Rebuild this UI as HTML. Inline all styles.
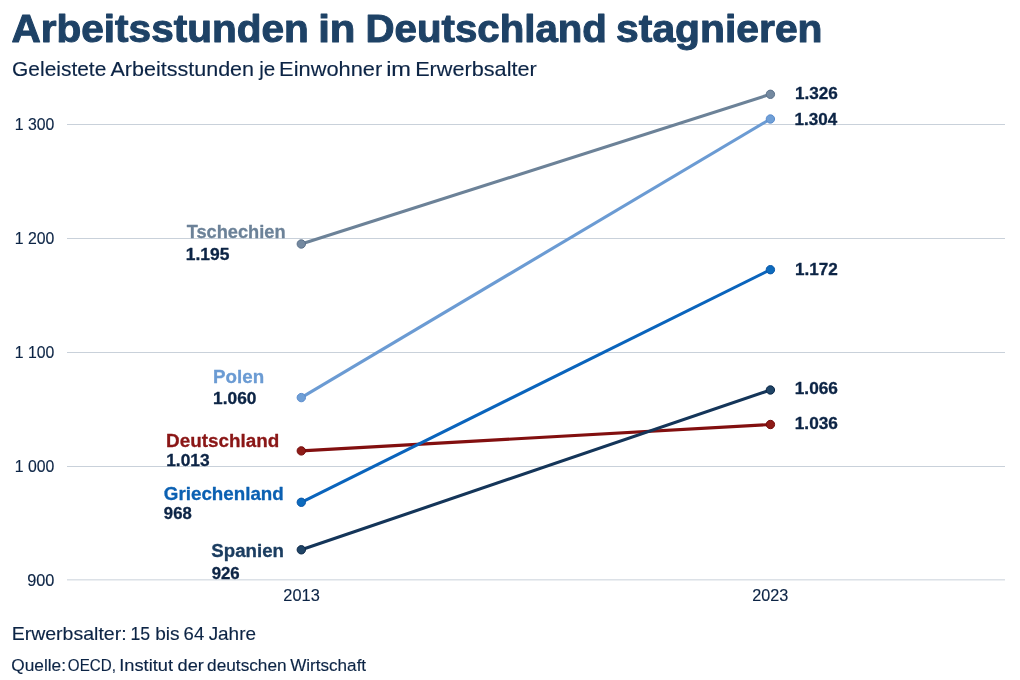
<!DOCTYPE html><html><head><meta charset="utf-8"><style>svg{will-change:transform}html,body{margin:0;padding:0;background:#fff;width:1020px;height:680px;overflow:hidden}svg{display:block}text{font-family:"Liberation Sans",sans-serif;white-space:pre}</style></head><body><svg width="1020" height="680" viewBox="0 0 1020 680"><rect x="67" y="124" width="938" height="1" fill="#c9d1da"/>
<rect x="67" y="238" width="938" height="1" fill="#c9d1da"/>
<rect x="67" y="352" width="938" height="1" fill="#c9d1da"/>
<rect x="67" y="466" width="938" height="1" fill="#c9d1da"/>
<rect x="67" y="579.35" width="938" height="1" fill="#c9d1da"/>
<text transform="translate(14.71 130.01) scale(0.9537 1)" font-size="16.600" font-weight="normal" fill="#0c2445" stroke="#0c2445" stroke-width="0.15" stroke-linejoin="round">1 300</text>
<text transform="translate(14.71 244.01) scale(0.9537 1)" font-size="16.600" font-weight="normal" fill="#0c2445" stroke="#0c2445" stroke-width="0.15" stroke-linejoin="round">1 200</text>
<text transform="translate(14.71 358.01) scale(0.9537 1)" font-size="16.600" font-weight="normal" fill="#0c2445" stroke="#0c2445" stroke-width="0.15" stroke-linejoin="round">1 100</text>
<text transform="translate(14.71 472.01) scale(0.9537 1)" font-size="16.600" font-weight="normal" fill="#0c2445" stroke="#0c2445" stroke-width="0.15" stroke-linejoin="round">1 000</text>
<text transform="translate(27.14 586.01) scale(0.9847 1)" font-size="16.600" font-weight="normal" fill="#0c2445" stroke="#0c2445" stroke-width="0.15" stroke-linejoin="round">900</text>
<text transform="translate(283.36 601.01) scale(0.9868 1)" font-size="16.600" font-weight="normal" fill="#0c2445" stroke="#0c2445" stroke-width="0.15" stroke-linejoin="round">2013</text>
<text transform="translate(752.28 601.01) scale(0.9776 1)" font-size="16.600" font-weight="normal" fill="#0c2445" stroke="#0c2445" stroke-width="0.15" stroke-linejoin="round">2023</text>
<text transform="translate(794.92 99.01) scale(1.0929 1)" font-size="15.680" font-weight="bold" fill="#0c2445" stroke="#0c2445" stroke-width="0.30" stroke-linejoin="round">1.326</text>
<text transform="translate(794.58 125.01) scale(1.0858 1)" font-size="15.680" font-weight="bold" fill="#0c2445" stroke="#0c2445" stroke-width="0.30" stroke-linejoin="round">1.304</text>
<text transform="translate(794.92 275.01) scale(1.0918 1)" font-size="15.680" font-weight="bold" fill="#0c2445" stroke="#0c2445" stroke-width="0.30" stroke-linejoin="round">1.172</text>
<text transform="translate(794.79 394.01) scale(1.0984 1)" font-size="15.680" font-weight="bold" fill="#0c2445" stroke="#0c2445" stroke-width="0.30" stroke-linejoin="round">1.066</text>
<text transform="translate(794.79 429.01) scale(1.0984 1)" font-size="15.680" font-weight="bold" fill="#0c2445" stroke="#0c2445" stroke-width="0.30" stroke-linejoin="round">1.036</text>
<text transform="translate(186.65 238.01) scale(0.9594 1)" font-size="19.000" font-weight="bold" fill="#6c8298" stroke="#6c8298" stroke-width="0.30" stroke-linejoin="round">Tschechien</text>
<text transform="translate(185.73 260.01) scale(1.1127 1)" font-size="15.680" font-weight="bold" fill="#0c2445" stroke="#0c2445" stroke-width="0.30" stroke-linejoin="round">1.195</text>
<text transform="translate(213.04 383.01) scale(0.9874 1)" font-size="19.000" font-weight="bold" fill="#6b9bd3" stroke="#6b9bd3" stroke-width="0.30" stroke-linejoin="round">Polen</text>
<text transform="translate(213.12 404.01) scale(1.1056 1)" font-size="15.680" font-weight="bold" fill="#0c2445" stroke="#0c2445" stroke-width="0.30" stroke-linejoin="round">1.060</text>
<text transform="translate(166.01 447.01) scale(0.9938 1)" font-size="19.000" font-weight="bold" fill="#8a1616" stroke="#8a1616" stroke-width="0.30" stroke-linejoin="round">Deutschland</text>
<text transform="translate(166.16 466.01) scale(1.1081 1)" font-size="15.680" font-weight="bold" fill="#0c2445" stroke="#0c2445" stroke-width="0.30" stroke-linejoin="round">1.013</text>
<text transform="translate(163.84 500.01) scale(0.9889 1)" font-size="19.000" font-weight="bold" fill="#0b60b2" stroke="#0b60b2" stroke-width="0.30" stroke-linejoin="round">Griechenland</text>
<text transform="translate(163.85 519.01) scale(1.0652 1)" font-size="15.680" font-weight="bold" fill="#0c2445" stroke="#0c2445" stroke-width="0.30" stroke-linejoin="round">968</text>
<text transform="translate(211.31 557.01) scale(0.9829 1)" font-size="19.000" font-weight="bold" fill="#1b3d60" stroke="#1b3d60" stroke-width="0.30" stroke-linejoin="round">Spanien</text>
<text transform="translate(211.67 579.01) scale(1.0729 1)" font-size="15.680" font-weight="bold" fill="#0c2445" stroke="#0c2445" stroke-width="0.30" stroke-linejoin="round">926</text>
<text transform="translate(11.44 42.01) scale(1.0594 1)" font-size="38.300" font-weight="bold" fill="#1e4266" stroke="#1e4266" stroke-width="1.00" stroke-linejoin="round">Arbeitsstunden</text>
<text transform="translate(318.17 42.01) scale(1.0946 1)" font-size="38.300" font-weight="bold" fill="#1e4266" stroke="#1e4266" stroke-width="1.00" stroke-linejoin="round">in</text>
<text transform="translate(365.57 42.01) scale(1.0506 1)" font-size="38.300" font-weight="bold" fill="#1e4266" stroke="#1e4266" stroke-width="1.00" stroke-linejoin="round">Deutschland</text>
<text transform="translate(616.12 42.01) scale(1.0659 1)" font-size="38.300" font-weight="bold" fill="#1e4266" stroke="#1e4266" stroke-width="1.00" stroke-linejoin="round">stagnieren</text>
<text transform="translate(12.05 76.01) scale(1.0118 1)" font-size="20.700" font-weight="normal" fill="#0c2445" stroke="#0c2445" stroke-width="0.15" stroke-linejoin="round">Geleistete</text>
<text transform="translate(110.47 76.01) scale(1.0402 1)" font-size="20.700" font-weight="normal" fill="#0c2445" stroke="#0c2445" stroke-width="0.15" stroke-linejoin="round">Arbeitsstunden</text>
<text transform="translate(259.19 76.01) scale(0.9950 1)" font-size="20.700" font-weight="normal" fill="#0c2445" stroke="#0c2445" stroke-width="0.15" stroke-linejoin="round">je</text>
<text transform="translate(279.10 76.01) scale(1.0545 1)" font-size="20.700" font-weight="normal" fill="#0c2445" stroke="#0c2445" stroke-width="0.15" stroke-linejoin="round">Einwohner</text>
<text transform="translate(386.13 76.01) scale(1.1405 1)" font-size="20.700" font-weight="normal" fill="#0c2445" stroke="#0c2445" stroke-width="0.15" stroke-linejoin="round">im</text>
<text transform="translate(415.14 76.01) scale(1.0471 1)" font-size="20.700" font-weight="normal" fill="#0c2445" stroke="#0c2445" stroke-width="0.15" stroke-linejoin="round">Erwerbsalter</text>
<text transform="translate(11.65 640.01) scale(1.0177 1)" font-size="19.186" font-weight="normal" fill="#0c2445" stroke="#0c2445" stroke-width="0.15" stroke-linejoin="round">Erwerbsalter:</text>
<text transform="translate(130.48 640.01) scale(0.9234 1)" font-size="19.186" font-weight="normal" fill="#0c2445" stroke="#0c2445" stroke-width="0.15" stroke-linejoin="round">15</text>
<text transform="translate(155.23 640.01) scale(0.9934 1)" font-size="19.186" font-weight="normal" fill="#0c2445" stroke="#0c2445" stroke-width="0.15" stroke-linejoin="round">bis</text>
<text transform="translate(183.57 640.01) scale(0.9666 1)" font-size="19.186" font-weight="normal" fill="#0c2445" stroke="#0c2445" stroke-width="0.15" stroke-linejoin="round">64</text>
<text transform="translate(208.63 640.01) scale(0.9867 1)" font-size="19.186" font-weight="normal" fill="#0c2445" stroke="#0c2445" stroke-width="0.15" stroke-linejoin="round">Jahre</text>
<text transform="translate(11.25 671.01) scale(1.0188 1)" font-size="16.951" font-weight="normal" fill="#0c2445" stroke="#0c2445" stroke-width="0.15" stroke-linejoin="round">Quelle:</text>
<text transform="translate(67.87 671.01) scale(0.8951 1)" font-size="16.951" font-weight="normal" fill="#0c2445" stroke="#0c2445" stroke-width="0.15" stroke-linejoin="round">OECD,</text>
<text transform="translate(119.25 671.01) scale(1.0785 1)" font-size="16.951" font-weight="normal" fill="#0c2445" stroke="#0c2445" stroke-width="0.15" stroke-linejoin="round">Institut</text>
<text transform="translate(177.51 671.01) scale(1.0767 1)" font-size="16.951" font-weight="normal" fill="#0c2445" stroke="#0c2445" stroke-width="0.15" stroke-linejoin="round">der</text>
<text transform="translate(207.12 671.01) scale(1.0172 1)" font-size="16.951" font-weight="normal" fill="#0c2445" stroke="#0c2445" stroke-width="0.15" stroke-linejoin="round">deutschen</text>
<text transform="translate(290.16 671.01) scale(1.0088 1)" font-size="16.951" font-weight="normal" fill="#0c2445" stroke="#0c2445" stroke-width="0.15" stroke-linejoin="round">Wirtschaft</text>
<line x1="301.30" y1="450.90" x2="770.40" y2="424.50" stroke="#820f0f" stroke-width="3.1"/>
<circle cx="301.30" cy="450.90" r="4.2" fill="#8e1b17" stroke="#730a0a" stroke-width="1"/>
<circle cx="770.40" cy="424.50" r="4.2" fill="#8e1b17" stroke="#730a0a" stroke-width="1"/>
<line x1="301.30" y1="244.00" x2="770.40" y2="94.30" stroke="#6c8298" stroke-width="3.1"/>
<circle cx="301.30" cy="244.00" r="4.2" fill="#7489a0" stroke="#5b718a" stroke-width="1"/>
<circle cx="770.40" cy="94.30" r="4.2" fill="#7489a0" stroke="#5b718a" stroke-width="1"/>
<line x1="301.30" y1="397.60" x2="770.40" y2="119.00" stroke="#6b9bd3" stroke-width="3.1"/>
<circle cx="301.30" cy="397.60" r="4.2" fill="#6f9fd6" stroke="#5a8bcc" stroke-width="1"/>
<circle cx="770.40" cy="119.00" r="4.2" fill="#6f9fd6" stroke="#5a8bcc" stroke-width="1"/>
<line x1="301.30" y1="502.30" x2="770.40" y2="269.70" stroke="#0a64bc" stroke-width="3.1"/>
<circle cx="301.30" cy="502.30" r="4.2" fill="#0d6bbd" stroke="#0a56a8" stroke-width="1"/>
<circle cx="770.40" cy="269.70" r="4.2" fill="#0d6bbd" stroke="#0a56a8" stroke-width="1"/>
<line x1="301.30" y1="549.80" x2="770.40" y2="390.00" stroke="#143559" stroke-width="3.1"/>
<circle cx="301.30" cy="549.80" r="4.2" fill="#1f4466" stroke="#0b2645" stroke-width="1"/>
<circle cx="770.40" cy="390.00" r="4.2" fill="#1f4466" stroke="#0b2645" stroke-width="1"/></svg></body></html>
